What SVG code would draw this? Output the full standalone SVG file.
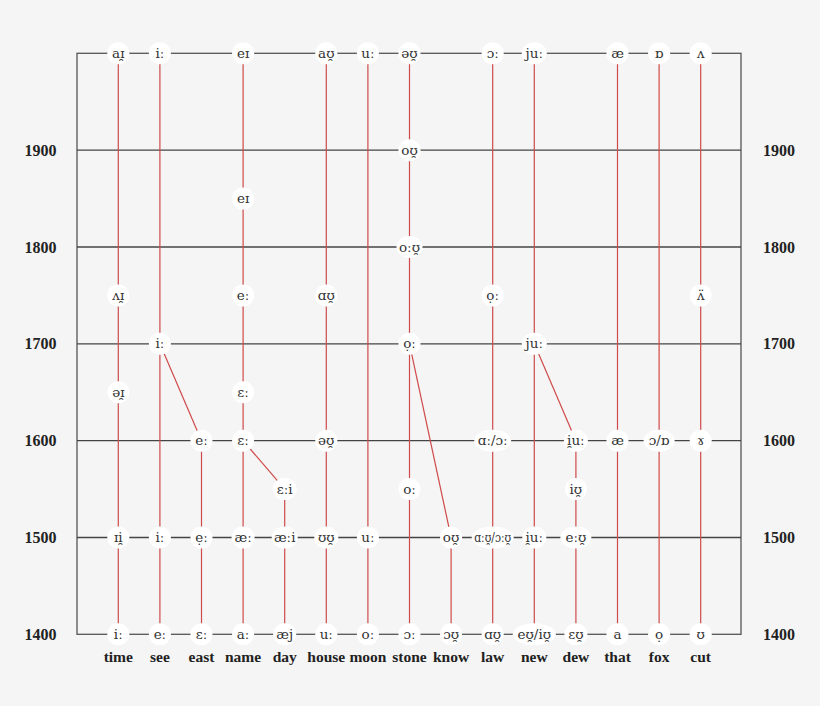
<svg xmlns="http://www.w3.org/2000/svg" width="820" height="706" viewBox="0 0 820 706">
<style>
.bg{fill:#f5f5f5}
.gl{stroke:#444;stroke-width:1.3;fill:none}
.fr{stroke:#555;stroke-width:1.3;fill:none}
.rl{stroke:#cf4a4a;stroke-width:1.2;fill:none}
.n ellipse{fill:#fff}
.n text{font-family:"DejaVu Serif","Liberation Serif",serif;font-size:13.5px;fill:#333;text-anchor:middle}
.w{font-family:"Liberation Serif","DejaVu Serif",serif;font-size:15.5px;font-weight:bold;fill:#222;text-anchor:middle}
.y{font-family:"Liberation Serif","DejaVu Serif",serif;font-size:16px;font-weight:bold;fill:#222;text-anchor:middle}
</style>
<rect class="bg" x="0" y="0" width="820" height="706"/>
<g id="grid">
<rect class="fr" x="77" y="53.3" width="664" height="581"/>
<line class="gl" x1="77" y1="150.2" x2="741" y2="150.2"/>
<line class="gl" x1="77" y1="247" x2="741" y2="247"/>
<line class="gl" x1="77" y1="343.8" x2="741" y2="343.8"/>
<line class="gl" x1="77" y1="440.7" x2="741" y2="440.7"/>
<line class="gl" x1="77" y1="537.5" x2="741" y2="537.5"/>
</g>
<g id="years">
<text class="y" x="40.5" y="155.7">1900</text><text class="y" x="779" y="155.7">1900</text>
<text class="y" x="40.5" y="252.5">1800</text><text class="y" x="779" y="252.5">1800</text>
<text class="y" x="40.5" y="349.3">1700</text><text class="y" x="779" y="349.3">1700</text>
<text class="y" x="40.5" y="446.2">1600</text><text class="y" x="779" y="446.2">1600</text>
<text class="y" x="40.5" y="543">1500</text><text class="y" x="779" y="543">1500</text>
<text class="y" x="40.5" y="639.8">1400</text><text class="y" x="779" y="639.8">1400</text>
</g>
<g id="connectors">
<line class="rl" x1="118.3" y1="53.3" x2="118.3" y2="634.3"/>
<line class="rl" x1="159.9" y1="53.3" x2="159.9" y2="634.3"/>
<line class="rl" x1="201.5" y1="440.7" x2="201.5" y2="634.3"/>
<line class="rl" x1="243.1" y1="53.3" x2="243.1" y2="634.3"/>
<line class="rl" x1="284.7" y1="489.1" x2="284.7" y2="634.3"/>
<line class="rl" x1="326.3" y1="53.3" x2="326.3" y2="634.3"/>
<line class="rl" x1="367.9" y1="53.3" x2="367.9" y2="634.3"/>
<line class="rl" x1="409.5" y1="53.3" x2="409.5" y2="634.3"/>
<line class="rl" x1="451.1" y1="537.5" x2="451.1" y2="634.3"/>
<line class="rl" x1="492.7" y1="53.3" x2="492.7" y2="634.3"/>
<line class="rl" x1="534.3" y1="53.3" x2="534.3" y2="634.3"/>
<line class="rl" x1="575.9" y1="440.7" x2="575.9" y2="634.3"/>
<line class="rl" x1="617.5" y1="53.3" x2="617.5" y2="634.3"/>
<line class="rl" x1="659.1" y1="53.3" x2="659.1" y2="634.3"/>
<line class="rl" x1="700.7" y1="53.3" x2="700.7" y2="634.3"/>
<line class="rl" x1="159.9" y1="343.8" x2="201.5" y2="440.7"/>
<line class="rl" x1="243.1" y1="440.7" x2="284.7" y2="489.1"/>
<line class="rl" x1="409.5" y1="343.8" x2="451.1" y2="537.5"/>
<line class="rl" x1="534.3" y1="343.8" x2="575.9" y2="440.7"/>
</g>
<g id="nodes">
<g class="n" id="time-2000"><ellipse cx="118.3" cy="53.3" rx="11" ry="11"/><text x="118.3" y="57.8">aɪ̯</text></g>
<g class="n" id="time-1750"><ellipse cx="118.3" cy="295.4" rx="11" ry="11"/><text x="118.3" y="299.9">ʌɪ̯</text></g>
<g class="n" id="time-1650"><ellipse cx="118.3" cy="392.2" rx="11" ry="11"/><text x="118.3" y="396.7">əɪ̯</text></g>
<g class="n" id="time-1500"><ellipse cx="118.3" cy="537.5" rx="11" ry="11"/><text x="118.3" y="542">ɪi̯</text></g>
<g class="n" id="time-1400"><ellipse cx="118.3" cy="634.3" rx="11" ry="11"/><text x="118.3" y="638.8">iː</text></g>

<g class="n" id="see-2000"><ellipse cx="159.9" cy="53.3" rx="11" ry="11"/><text x="159.9" y="57.8">iː</text></g>
<g class="n" id="see-1700"><ellipse cx="159.9" cy="343.8" rx="11" ry="11"/><text x="159.9" y="348.3">iː</text></g>
<g class="n" id="see-1500"><ellipse cx="159.9" cy="537.5" rx="11" ry="11"/><text x="159.9" y="542">iː</text></g>
<g class="n" id="see-1400"><ellipse cx="159.9" cy="634.3" rx="11" ry="11"/><text x="159.9" y="638.8">eː</text></g>

<g class="n" id="east-1600"><ellipse cx="201.5" cy="440.7" rx="11" ry="11"/><text x="201.5" y="445.2">eː</text></g>
<g class="n" id="east-1500"><ellipse cx="201.5" cy="537.5" rx="11" ry="11"/><text x="201.5" y="542">ẹː</text></g>
<g class="n" id="east-1400"><ellipse cx="201.5" cy="634.3" rx="11" ry="11"/><text x="201.5" y="638.8">ɛː</text></g>

<g class="n" id="name-2000"><ellipse cx="243.1" cy="53.3" rx="11" ry="11"/><text x="243.1" y="57.8">eɪ</text></g>
<g class="n" id="name-1850"><ellipse cx="243.1" cy="198.6" rx="11" ry="11"/><text x="243.1" y="203.1">eɪ</text></g>
<g class="n" id="name-1750"><ellipse cx="243.1" cy="295.4" rx="11" ry="11"/><text x="243.1" y="299.9">eː</text></g>
<g class="n" id="name-1650"><ellipse cx="243.1" cy="392.2" rx="11" ry="11"/><text x="243.1" y="396.7">ɛː</text></g>
<g class="n" id="name-1600"><ellipse cx="243.1" cy="440.7" rx="11" ry="11"/><text x="243.1" y="445.2">ɛː</text></g>
<g class="n" id="name-1500"><ellipse cx="243.1" cy="537.5" rx="11.5" ry="11"/><text x="243.1" y="542">æː</text></g>
<g class="n" id="name-1400"><ellipse cx="243.1" cy="634.3" rx="11" ry="11"/><text x="243.1" y="638.8">aː</text></g>

<g class="n" id="day-1550"><ellipse cx="284.7" cy="489.1" rx="12" ry="11"/><text x="284.7" y="493.6">ɛːi</text></g>
<g class="n" id="day-1500"><ellipse cx="284.7" cy="537.5" rx="13" ry="11"/><text x="284.7" y="542">æːi</text></g>
<g class="n" id="day-1400"><ellipse cx="284.7" cy="634.3" rx="11.5" ry="11"/><text x="284.7" y="638.8">æj</text></g>

<g class="n" id="house-2000"><ellipse cx="326.3" cy="53.3" rx="11" ry="11"/><text x="326.3" y="57.8">aʊ̯</text></g>
<g class="n" id="house-1750"><ellipse cx="326.3" cy="295.4" rx="11" ry="11"/><text x="326.3" y="299.9">ɑʊ̯</text></g>
<g class="n" id="house-1600"><ellipse cx="326.3" cy="440.7" rx="11" ry="11"/><text x="326.3" y="445.2">əʊ̯</text></g>
<g class="n" id="house-1500"><ellipse cx="326.3" cy="537.5" rx="12" ry="11"/><text x="326.3" y="542">ʊʊ̯</text></g>
<g class="n" id="house-1400"><ellipse cx="326.3" cy="634.3" rx="11" ry="11"/><text x="326.3" y="638.8">uː</text></g>

<g class="n" id="moon-2000"><ellipse cx="367.9" cy="53.3" rx="11" ry="11"/><text x="367.9" y="57.8">uː</text></g>
<g class="n" id="moon-1500"><ellipse cx="367.9" cy="537.5" rx="11" ry="11"/><text x="367.9" y="542">uː</text></g>
<g class="n" id="moon-1400"><ellipse cx="367.9" cy="634.3" rx="11" ry="11"/><text x="367.9" y="638.8">oː</text></g>

<g class="n" id="stone-2000"><ellipse cx="409.5" cy="53.3" rx="11" ry="11"/><text x="409.5" y="57.8">əʊ̯</text></g>
<g class="n" id="stone-1900"><ellipse cx="409.5" cy="150.2" rx="11" ry="11"/><text x="409.5" y="154.7">oʊ̯</text></g>
<g class="n" id="stone-1800"><ellipse cx="409.5" cy="247" rx="13" ry="11"/><text x="409.5" y="251.5">oːʊ̯</text></g>
<g class="n" id="stone-1700"><ellipse cx="409.5" cy="343.8" rx="11" ry="11"/><text x="409.5" y="348.3">ọː</text></g>
<g class="n" id="stone-1550"><ellipse cx="409.5" cy="489.1" rx="11" ry="11"/><text x="409.5" y="493.6">oː</text></g>
<g class="n" id="stone-1400"><ellipse cx="409.5" cy="634.3" rx="11" ry="11"/><text x="409.5" y="638.8">ɔː</text></g>

<g class="n" id="know-1500"><ellipse cx="451.1" cy="537.5" rx="11" ry="11"/><text x="451.1" y="542">oʊ̯</text></g>
<g class="n" id="know-1400"><ellipse cx="451.1" cy="634.3" rx="11" ry="11"/><text x="451.1" y="638.8">ɔʊ̯</text></g>

<g class="n" id="law-2000"><ellipse cx="492.7" cy="53.3" rx="11" ry="11"/><text x="492.7" y="57.8">ɔː</text></g>
<g class="n" id="law-1750"><ellipse cx="492.7" cy="295.4" rx="11" ry="11"/><text x="492.7" y="299.9">ọː</text></g>
<g class="n" id="law-1600"><ellipse cx="492.7" cy="440.7" rx="18.5" ry="11"/><text x="492.7" y="445.2">ɑː/ɔː</text></g>
<g class="n" id="law-1500"><ellipse cx="492.7" cy="537.5" rx="21" ry="11"/><text x="492.7" y="542" textLength="37" lengthAdjust="spacingAndGlyphs">ɑːʊ̯/ɔːʊ̯</text></g>
<g class="n" id="law-1400"><ellipse cx="492.7" cy="634.3" rx="11" ry="11"/><text x="492.7" y="638.8">ɑʊ̯</text></g>

<g class="n" id="new-2000"><ellipse cx="534.3" cy="53.3" rx="12.5" ry="11"/><text x="534.3" y="57.8">juː</text></g>
<g class="n" id="new-1700"><ellipse cx="534.3" cy="343.8" rx="12.5" ry="11"/><text x="534.3" y="348.3">juː</text></g>
<g class="n" id="new-1500"><ellipse cx="534.3" cy="537.5" rx="12" ry="11"/><text x="534.3" y="542">i̯uː</text></g>
<g class="n" id="new-1400"><ellipse cx="534.3" cy="634.3" rx="21.5" ry="11"/><text x="534.3" y="638.8">eʊ̯/iʊ̯</text></g>

<g class="n" id="dew-1600"><ellipse cx="575.9" cy="440.7" rx="12" ry="11"/><text x="575.9" y="445.2">i̯uː</text></g>
<g class="n" id="dew-1550"><ellipse cx="575.9" cy="489.1" rx="11" ry="11"/><text x="575.9" y="493.6">iʊ̯</text></g>
<g class="n" id="dew-1500"><ellipse cx="575.9" cy="537.5" rx="15.5" ry="11"/><text x="575.9" y="542">eːʊ̯</text></g>
<g class="n" id="dew-1400"><ellipse cx="575.9" cy="634.3" rx="11.5" ry="11"/><text x="575.9" y="638.8">ɛʊ̯</text></g>

<g class="n" id="that-2000"><ellipse cx="617.5" cy="53.3" rx="11" ry="11"/><text x="617.5" y="57.8">æ</text></g>
<g class="n" id="that-1600"><ellipse cx="617.5" cy="440.7" rx="11" ry="11"/><text x="617.5" y="445.2">æ</text></g>
<g class="n" id="that-1400"><ellipse cx="617.5" cy="634.3" rx="11" ry="11"/><text x="617.5" y="638.8">a</text></g>

<g class="n" id="fox-2000"><ellipse cx="659.1" cy="53.3" rx="11" ry="11"/><text x="659.1" y="57.8">ɒ</text></g>
<g class="n" id="fox-1600"><ellipse cx="659.1" cy="440.7" rx="15.5" ry="11"/><text x="659.1" y="445.2">ɔ/ɒ</text></g>
<g class="n" id="fox-1400"><ellipse cx="659.1" cy="634.3" rx="11" ry="11"/><text x="659.1" y="638.8">ọ</text></g>

<g class="n" id="cut-2000"><ellipse cx="700.7" cy="53.3" rx="11" ry="11"/><text x="700.7" y="57.8">ʌ</text></g>
<g class="n" id="cut-1750"><ellipse cx="700.7" cy="295.4" rx="11" ry="11"/><text x="700.7" y="299.9">ʌ̈</text></g>
<g class="n" id="cut-1600"><ellipse cx="700.7" cy="440.7" rx="11" ry="11"/><text x="700.7" y="445.2">ɤ</text></g>
<g class="n" id="cut-1400"><ellipse cx="700.7" cy="634.3" rx="11" ry="11"/><text x="700.7" y="638.8">ʊ</text></g>
</g>
<g id="words">
<text class="w" x="118.3" y="662">time</text>
<text class="w" x="159.9" y="662">see</text>
<text class="w" x="201.5" y="662">east</text>
<text class="w" x="243.1" y="662">name</text>
<text class="w" x="284.7" y="662">day</text>
<text class="w" x="326.3" y="662">house</text>
<text class="w" x="367.9" y="662">moon</text>
<text class="w" x="409.5" y="662">stone</text>
<text class="w" x="451.1" y="662">know</text>
<text class="w" x="492.7" y="662">law</text>
<text class="w" x="534.3" y="662">new</text>
<text class="w" x="575.9" y="662">dew</text>
<text class="w" x="617.5" y="662">that</text>
<text class="w" x="659.1" y="662">fox</text>
<text class="w" x="700.7" y="662">cut</text>
</g>
</svg>
